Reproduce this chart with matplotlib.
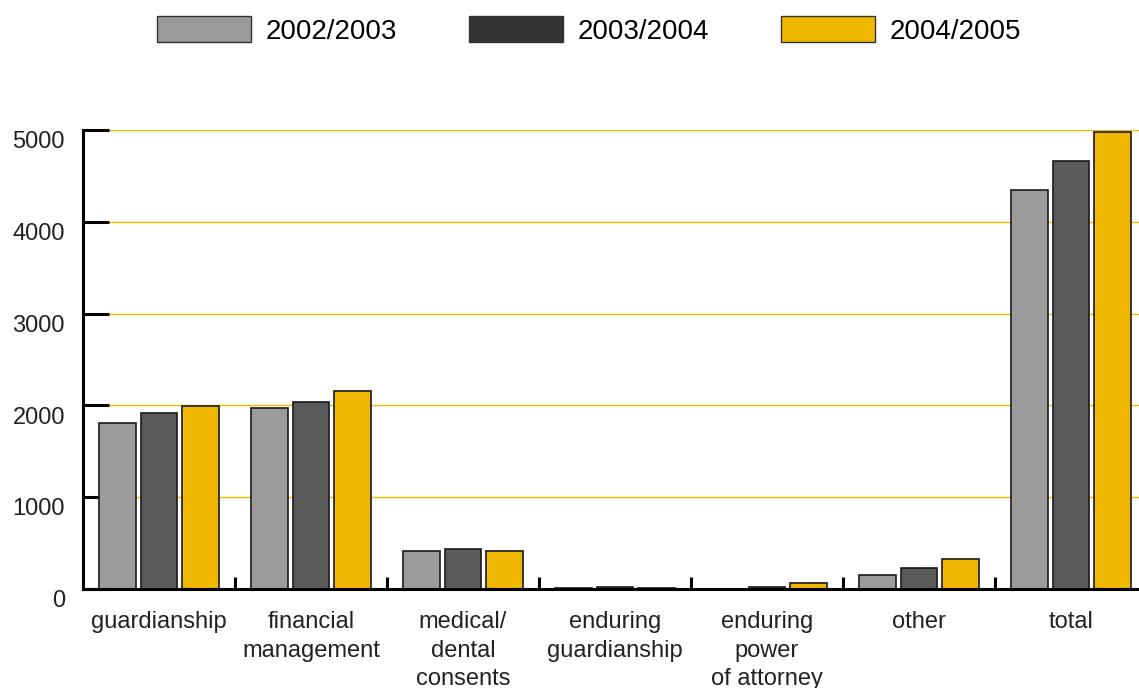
import numpy as np
import matplotlib
matplotlib.use("Agg")
import matplotlib.pyplot as plt
import matplotlib.transforms as mtransforms
from matplotlib.patches import Patch

# data
categories = ["guardianship", "financial\nmanagement", "medical/\ndental\nconsents",
              "enduring\nguardianship", "enduring\npower\nof attorney", "other", "total"]
series_names = ["2002/2003", "2003/2004", "2004/2005"]
y2002 = [1810, 1970, 410, 10, 0, 150, 4345]
y2003 = [1915, 2040, 440, 22, 22, 230, 4665]
y2004 = [1995, 2160, 410, 15, 70, 330, 4975]
yticks = [0, 1000, 2000, 3000, 4000, 5000]

bar_colors = ["#9b9b9b", "#5a5a5a", "#efb700"]
legend_colors = ["#9b9b9b", "#333333", "#efb700"]
grid_color = "#f0b800"

plt.rcParams['font.family'] = ['Liberation Sans', 'DejaVu Sans']

fig = plt.figure(figsize=(11.39, 6.88), dpi=100)
ax = fig.add_axes([83/1139, 99/688, 1064/1139, 459/688])

x = np.arange(len(categories))
w = 0.243
step = 0.27
for i, vals in enumerate([y2002, y2003, y2004]):
    ax.bar(x + (i - 1) * step, vals, width=w, color=bar_colors[i],
           edgecolor="#1a1a1a", linewidth=1.2, zorder=2)

ax.set_xlim(-0.5, 6.5)
ax.set_ylim(0, 5000)
ax.set_yticks(yticks)
ax.set_yticklabels([str(v) for v in yticks])
ax.set_xticks(x)
ax.set_xticklabels(categories, linespacing=1.38)
ax.set_xticks(np.arange(0.5, 6.5, 1), minor=True)

ax.set_axisbelow(True)
ax.yaxis.grid(True, color=grid_color, linewidth=1.0)
for s in ["top", "right"]:
    ax.spines[s].set_visible(False)
ax.spines["left"].set_linewidth(2.2)
ax.spines["bottom"].set_linewidth(2.2)

ax.tick_params(axis="y", direction="in", length=19, width=2.2, pad=13,
               labelsize=17, labelcolor="#222222")
ax.tick_params(axis="x", which="major", length=0, pad=16,
               labelsize=17, labelcolor="#222222")
ax.tick_params(axis="x", which="minor", direction="in", length=9, width=2.2)

offset = mtransforms.ScaledTranslation(0, -7/72, fig.dpi_scale_trans)
for label in ax.yaxis.get_majorticklabels():
    label.set_transform(label.get_transform() + offset)

handles = [Patch(facecolor=c, edgecolor="#333333", linewidth=1.0) for c in legend_colors]
fig.legend(handles, series_names, loc="center", bbox_to_anchor=(0.517, 0.956),
           ncol=3, frameon=False, fontsize=20, handlelength=3.4, handleheight=1.08,
           handletextpad=0.5, columnspacing=2.6)

fig.savefig("out.png", dpi=100)
